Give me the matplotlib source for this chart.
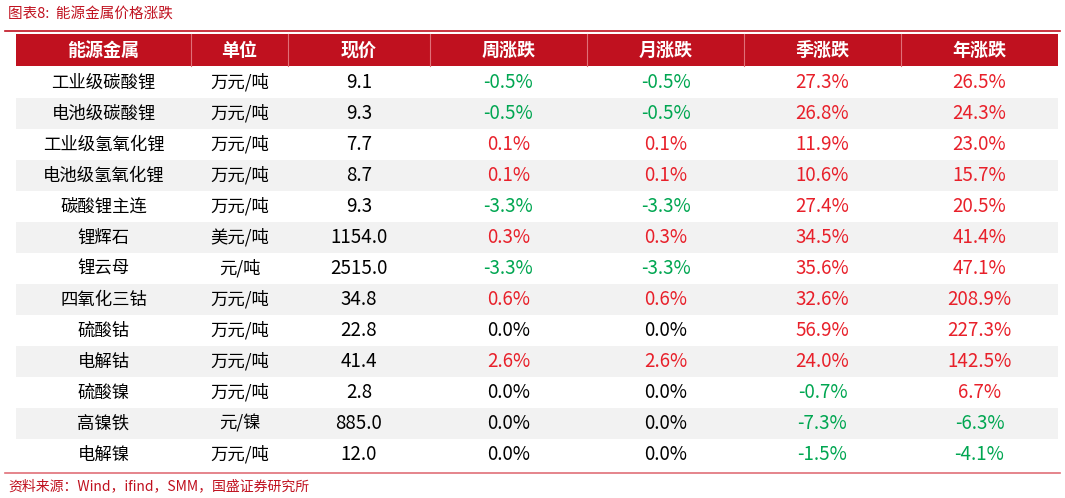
import matplotlib.pyplot as plt
from matplotlib.patches import Rectangle

plt.rcParams['font.family'] = ['Noto Sans CJK SC', 'DejaVu Sans']

headers = ['能源金属', '单位', '现价', '周涨跌', '月涨跌', '季涨跌', '年涨跌']
metals = ['工业级碳酸锂', '电池级碳酸锂', '工业级氢氧化锂', '电池级氢氧化锂', '碳酸锂主连',
          '锂辉石', '锂云母', '四氧化三钴', '硫酸钴', '电解钴', '硫酸镍', '高镍铁', '电解镍']
units = ['万元/吨', '万元/吨', '万元/吨', '万元/吨', '万元/吨', '美元/吨', '元/吨',
         '万元/吨', '万元/吨', '万元/吨', '万元/吨', '元/镍', '万元/吨']
price = [9.1, 9.3, 7.7, 8.7, 9.3, 1154.0, 2515.0, 34.8, 22.8, 41.4, 2.8, 885.0, 12.0]
week = [-0.5, -0.5, 0.1, 0.1, -3.3, 0.3, -3.3, 0.6, 0.0, 2.6, 0.0, 0.0, 0.0]
month = [-0.5, -0.5, 0.1, 0.1, -3.3, 0.3, -3.3, 0.6, 0.0, 2.6, 0.0, 0.0, 0.0]
quarter = [27.3, 26.8, 11.9, 10.6, 27.4, 34.5, 35.6, 32.6, 56.9, 24.0, -0.7, -7.3, -1.5]
year = [26.5, 24.3, 23.0, 15.7, 20.5, 41.4, 47.1, 208.9, 227.3, 142.5, 6.7, -6.3, -4.1]

RED = '#C0111F'
UP = '#E8202A'
DOWN = '#00A651'

fig = plt.figure(figsize=(10.65, 4.98), dpi=100)
ax = fig.add_axes([0, 0, 1, 1])
ax.set_xlim(0, 1065)
ax.set_ylim(498, 0)
ax.axis('off')

edges = [16, 191, 288, 430, 587, 744, 901, 1058]
centers = [(a + b) / 2 for a, b in zip(edges[:-1], edges[1:])]
head_top, head_h = 34, 32
row_top, row_h = 67, 31


def spaced(s):
    # the reference uses a wide CJK font, mimic with thin gaps
    return '\u2009'.join(s)


ax.text(8, 14, '图表8:  能源金属价格涨跌', color=RED, fontsize=10.5, style='italic', va='center')
ax.plot([5, 1060], [31, 31], color=RED, lw=1.2)

ax.add_patch(Rectangle((edges[0], head_top), edges[-1] - edges[0], head_h, color=RED, lw=0))
for x in edges[1:-1]:
    ax.plot([x, x], [head_top, head_top + head_h], color='#E07078', lw=0.8)
for c, h in zip(centers, headers):
    ax.text(c, head_top + head_h / 2, h, color='white', fontsize=13, fontweight='bold',
            ha='center', va='center')


def pct_color(v):
    if v > 0:
        return UP
    if v < 0:
        return DOWN
    return 'black'


for i in range(len(metals)):
    y0 = row_top + i * row_h
    if i % 2 == 1:
        ax.add_patch(Rectangle((edges[0], y0), edges[-1] - edges[0], row_h, color='#F2F2F2', lw=0))
    yc = y0 + row_h / 2
    ax.text(centers[0], yc, metals[i], fontsize=12.5, ha='center', va='center',
            family=['DejaVu Sans', 'Noto Sans CJK SC']) if False else \
        ax.text(centers[0], yc, metals[i], fontsize=12.5, ha='center', va='center')
    ax.text(centers[1], yc, units[i], fontsize=12.5, ha='center', va='center')
    ax.text(centers[2], yc, f'{price[i]:.1f}', fontsize=13.5, ha='center', va='center')
    for j, vals in enumerate([week, month, quarter, year]):
        v = vals[i]
        ax.text(centers[3 + j], yc, f'{v:.1f}%', fontsize=13.5, ha='center', va='center',
                color=pct_color(v))

ax.plot([5, 1060], [row_top + 13 * row_h + 3, row_top + 13 * row_h + 3], color='#E07078', lw=1.2)
ax.text(8, 486, '资料来源：Wind，ifind，SMM，国盛证券研究所', color=RED, fontsize=10,
        style='italic', va='center')

fig.savefig('out.png', dpi=100)
